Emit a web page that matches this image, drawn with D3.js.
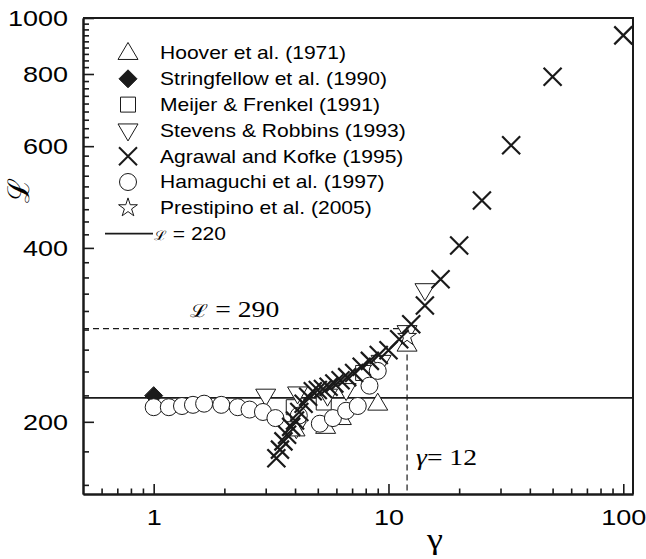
<!DOCTYPE html>
<html><head><meta charset="utf-8">
<script src="https://cdn.jsdelivr.net/npm/d3@7"></script>
<style>body{margin:0;background:#fff}svg{display:block}</style>
</head><body>
<svg id="c" width="646" height="559"></svg>
<script>
// ---- data ----
const hooverX = [4.0, 5.4, 6.3, 9.0, 12.0];
const hooverY = [194, 196, 203, 215, 272];
const stringfellowX = [1.0];
const stringfellowY = [222];
const meijerX = [3.95, 5.3, 7.8];
const meijerY = [212, 216, 243];
const stevensX = [3.0, 4.1, 4.05, 5.5, 6.6, 9.3, 12.0, 14.3];
const stevensY = [222, 224, 195, 222, 227, 254, 286, 338];
const agrawalX = [100, 50, 33.3, 25, 20, 16.67, 14.29, 12.5, 11.11, 10, 9.09, 8.33, 7.69, 7.14, 6.67, 6.25, 5.88, 5.56, 5.26, 5.0, 4.76, 4.55, 4.35, 4.17, 4.0, 3.85, 3.70, 3.57, 3.45, 3.33];
const agrawalY = [933, 791, 602, 483, 404, 353, 318, 295, 278, 266, 261, 255, 249, 243, 239, 236, 233, 230, 228, 227, 226, 221, 215, 208, 201, 196, 190, 185, 179, 173];
const hamaguchiX = [1.0, 1.16, 1.32, 1.47, 1.64, 1.94, 2.28, 2.56, 2.92, 3.3, 4.15, 5.1, 5.8, 6.6, 7.4, 8.3, 9.0];
const hamaguchiY = [212, 212, 213, 214, 215, 214, 212, 210, 208, 203, 205, 198.5, 203, 209, 213, 231, 245];
const prestipinoX = [12.0];
const prestipinoY = [281];
const legendLabels = ["Hoover et al. (1971)", "Stringfellow et al. (1990)", "Meijer & Frenkel (1991)", "Stevens & Robbins (1993)", "Agrawal and Kofke (1995)", "Hamaguchi et al. (1997)", "Prestipino et al. (2005)"];
const refLevel = 220;
const dashLevel = 290;
const dashGamma = 12;
const xMajor = [1, 10, 100];
const yMajor = [200, 400, 600, 800, 1000];
const xDomain = [0.5, 110];
const yDomain = [150, 1000];

// ---- layout ----
const L = 83, R = 633, T = 18, B = 494;
const SX = 1.2; // horizontal stretch of the original figure's lettering
const svg = d3.select("#c");
const x = d3.scaleLog().domain(xDomain).range([L, R]);
const y = d3.scaleLog().domain(yDomain).range([B, T]);
const ink = "#1a1a1a";
const sans = "Liberation Sans, Arial, sans-serif";
const serif = "Liberation Serif, Times New Roman, serif";
const script = "DejaVu Serif, serif";

// minor ticks
const xMinor = [];
[0.1, 1, 10].forEach(e => { for (let d = 2; d <= 9; d++) { const v = d * e; if (v > xDomain[0] && v < xDomain[1] && !xMajor.includes(v)) xMinor.push(v); } });
const yMinor = [];
for (let b = 0; b < 1000; b += 200) for (let k = 1; k <= 8; k++) { const v = b + k * 200 / 9; if (v > yDomain[0] && v < yDomain[1]) yMinor.push(v); }

// reference lines
svg.append("line").attr("x1", L).attr("x2", R).attr("y1", y(refLevel)).attr("y2", y(refLevel))
  .attr("stroke", ink).attr("stroke-width", 1.6);
svg.append("path").attr("d", `M${L},${y(dashLevel)}H${x(dashGamma)}V${B}`)
  .attr("fill", "none").attr("stroke", ink).attr("stroke-width", 1.2).attr("stroke-dasharray", "6,4");

// symbol generators
function tri(up, s) { const h = s * 0.85, w = s; return up ? `M0,${-h*0.62}L${w/2},${h*0.38}L${-w/2},${h*0.38}Z` : `M0,${h*0.62}L${w/2},${-h*0.38}L${-w/2},${-h*0.38}Z`; }
const shapes = {
  hoover: tri(true, 20),
  stevens: tri(false, 20),
  meijer: "M-7.5,-7.5H7.5V7.5H-7.5Z",
  diamond: "M0,-9L9,0L0,9L-9,0Z",
  circle: d3.arc()({innerRadius: 0, outerRadius: 8.5, startAngle: 0, endAngle: 2 * Math.PI}),
  cross: "M-9,-9L9,9M-9,9L9,-9",
  star: d3.symbol(d3.symbolStar, 110)()
};
function plot(xs, ys, shape, fill, sw) {
  svg.append("g").selectAll("path").data(xs.map((v, i) => [v, ys[i]])).join("path")
    .attr("transform", d => `translate(${x(d[0])},${y(d[1])})`)
    .attr("d", shape).attr("fill", fill).attr("stroke", ink).attr("stroke-width", sw);
}
plot(stringfellowX, stringfellowY, shapes.diamond, ink, 1);
plot(meijerX, meijerY, shapes.meijer, "#fff", 1);
plot(stevensX, stevensY, shapes.stevens, "#fff", 1);
plot(hooverX, hooverY, shapes.hoover, "#fff", 1);
plot(hamaguchiX, hamaguchiY, shapes.circle, "#fff", 1);
plot(prestipinoX, prestipinoY, shapes.star, "#fff", 1);
plot(agrawalX, agrawalY, shapes.cross, "none", 2.2);

// axes
function styleAxis(g) {
  g.select(".domain").attr("stroke", ink).attr("stroke-width", 2);
  g.selectAll(".tick line").attr("stroke", ink).attr("stroke-width", 1.6);
  g.selectAll("text").attr("fill", "#000").attr("font-family", sans).attr("font-size", 22.5)
    .attr("transform", `scale(${SX},1)`);
}
svg.append("g").attr("transform", `translate(0,${B})`).call(d3.axisBottom(x).tickValues(xMinor).tickSize(-5.5).tickSizeOuter(0).tickFormat("")).call(styleAxis);
svg.append("g").attr("transform", `translate(0,${B})`).call(d3.axisBottom(x).tickValues(xMajor).tickSize(-10).tickSizeOuter(0).tickPadding(15).tickFormat(d3.format("d"))).call(styleAxis);
svg.append("g").attr("transform", `translate(${L},0)`).call(d3.axisLeft(y).tickValues(yMinor).tickSize(-6).tickSizeOuter(0).tickFormat("")).call(styleAxis);
svg.append("g").attr("transform", `translate(${L},0)`).call(d3.axisLeft(y).tickValues(yMajor).tickSize(-11).tickSizeOuter(0).tickPadding(12.5).tickFormat(d3.format("d"))).call(styleAxis);
svg.append("path").attr("d", `M${L},${T}H${R}V${B}`).attr("fill", "none").attr("stroke", ink).attr("stroke-width", 2);

// axis titles
svg.append("text").attr("transform", `translate(435,549) scale(${SX},1)`).attr("text-anchor", "middle")
  .attr("font-family", serif).attr("font-size", 30).text("γ");
svg.append("text").attr("transform", "translate(29,190) rotate(-90)").attr("text-anchor", "middle")
  .attr("font-family", script).attr("font-size", 30).text("ℒ");

// annotations
const ann1 = svg.append("text").attr("transform", `translate(190,317) scale(${SX},1)`).attr("font-family", serif).attr("font-size", 23);
ann1.append("tspan").attr("font-family", script).attr("font-size", 18).text("ℒ");
ann1.append("tspan").text(" = 290");
const ann2 = svg.append("text").attr("transform", `translate(416,465) scale(${SX},1)`).attr("font-family", serif).attr("font-size", 23);
ann2.append("tspan").attr("font-style", "italic").text("γ");
ann2.append("tspan").text("= 12");

// legend
const legShapes = [[shapes.hoover, "#fff", 1], [shapes.diamond, ink, 1], [shapes.meijer, "#fff", 1], [shapes.stevens, "#fff", 1], [shapes.cross, "none", 2], [shapes.circle, "#fff", 1], [shapes.star, "#fff", 1]];
const legY0 = 53, legDy = 25.8, legSymX = 128, legTxtX = 160;
legendLabels.forEach((lab, i) => {
  const yy = legY0 + i * legDy;
  svg.append("path").attr("transform", `translate(${legSymX},${yy})`).attr("d", legShapes[i][0])
    .attr("fill", legShapes[i][1]).attr("stroke", ink).attr("stroke-width", legShapes[i][2]);
  svg.append("text").attr("transform", `translate(${legTxtX},${yy}) scale(1.17,1)`).attr("dy", "0.36em")
    .attr("font-family", sans).attr("font-size", 18).text(lab);
});
const ly = legY0 + 7 * legDy;
svg.append("line").attr("x1", 105).attr("x2", 153).attr("y1", ly).attr("y2", ly).attr("stroke", ink).attr("stroke-width", 1.6);
const lt = svg.append("text").attr("transform", `translate(${legTxtX - 6},${ly}) scale(1.17,1)`).attr("dy", "0.36em").attr("font-family", sans).attr("font-size", 18);
lt.append("tspan").attr("font-family", script).attr("font-size", 13).text("ℒ");
lt.append("tspan").text(" = 220");
</script>
</body></html>
